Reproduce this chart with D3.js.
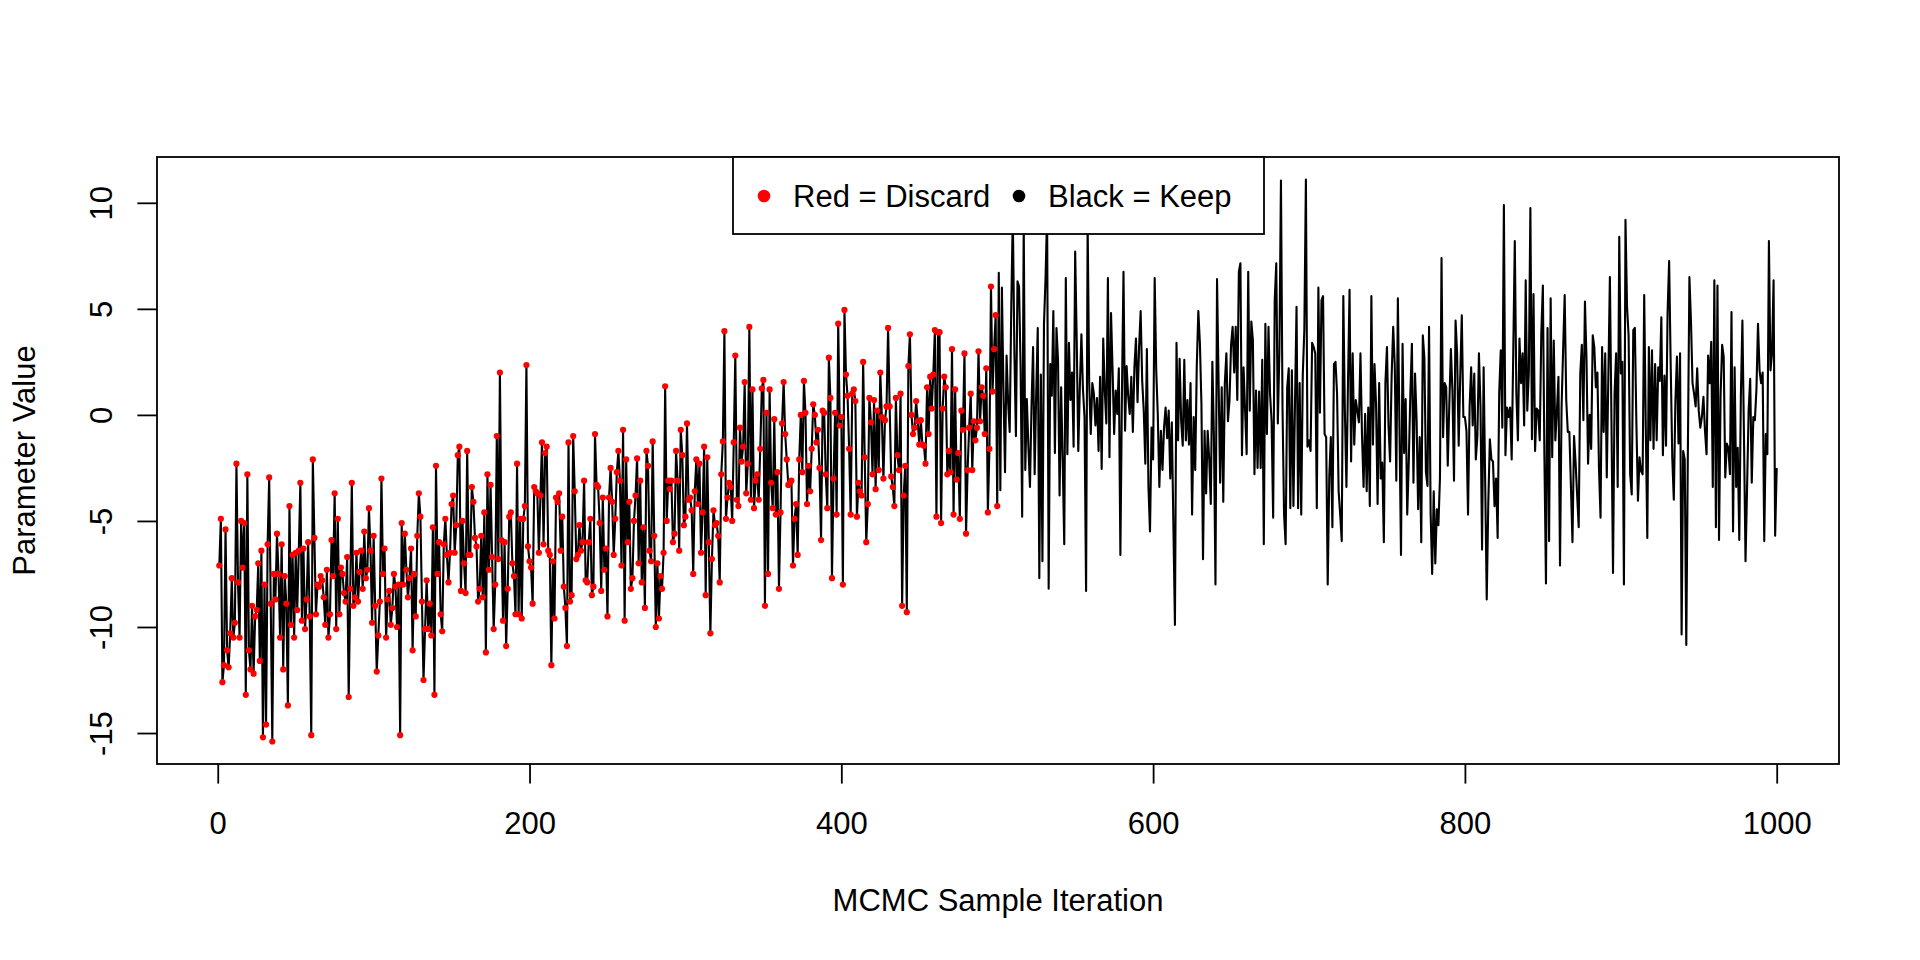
<!DOCTYPE html>
<html>
<head>
<meta charset="utf-8">
<script src="https://cdnjs.cloudflare.com/ajax/libs/d3/7.8.5/d3.min.js"></script>
<style>
  body { margin: 0; background: #fff; }
  svg text { font-family: "Liberation Sans", Arial, sans-serif; fill: #000; }
</style>
</head>
<body>
<svg id="chart" width="1920" height="960"></svg>
<script>
/////////////////////////////////////////////////////////////
// trace values, in blocks of 125 iterations

// burn-in (iterations 1-500), drawn with red points
var discard1 = [
  -7.1, -4.9, -12.6, -11.8, -5.4, -11.1, -11.9, -10.3, -7.7, -10.5,
  -9.8, -2.3, -7.9, -10.5, -5.0, -7.2, -5.1, -13.2, -2.8, -11.1,
  -12.0, -9.0, -12.2, -9.5, -9.2, -7.0, -11.6, -6.4, -15.2, -8.0,
  -14.6, -6.1, -2.95, -8.9, -15.4, -7.5, -8.7, -5.6, -7.5, -10.5,
  -6.1, -12.0, -7.6, -8.9, -13.7, -4.3, -9.9, -6.6, -10.5, -6.5,
  -9.2, -6.4, -3.2, -9.7, -6.3, -10.1, -8.7, -6.0, -9.5, -15.1,
  -2.1, -5.8, -9.4, -8.0, -8.1, -7.6, -7.8, -8.6, -9.9, -7.3,
  -10.5, -9.4, -5.9, -7.6, -3.7, -10.1, -4.9, -9.4, -7.2, -7.5,
  -8.4, -8.8, -6.7, -13.3, -8.2, -3.2, -9.0, -8.6, -6.5, -8.8,
  -7.4, -6.4, -8.2, -5.5, -7.7, -7.3, -4.4, -6.4, -9.8, -5.7,
  -9.0, -12.1, -10.4, -8.8, -3.0, -7.5, -6.3, -10.5, -8.7, -8.3,
  -9.9, -9.1, -7.5, -8.1, -10.0, -8.0, -15.1, -5.1, -8.0, -5.6,
  -7.3, -8.6, -7.7, -6.3, -11.1
];
var discard2 = [
  -7.5, -9.5, -5.7, -3.7, -4.8, -8.8, -12.5, -10.1, -7.8, -10.1,
  -8.9, -10.4, -5.3, -13.2, -2.4, -7.5, -6.0, -9.4, -10.2, -6.1,
  -4.9, -6.6, -7.9, -6.5, -4.2, -3.8, -6.5, -5.2, -1.9, -1.5,
  -8.3, -5.0, -7.0, -8.4, -1.7, -6.6, -6.6, -3.4, -4.1, -5.8,
  -6.2, -8.8, -8.2, -5.7, -8.6, -4.6, -11.2, -2.8, -7.3, -3.3,
  -6.7, -10.1, -8.0, -1.0, -6.8, 2.0, -5.9, -9.7, -6.0, -10.9,
  -8.2, -4.8, -4.6, -7.0, -7.6, -9.4, -2.3, -9.4, -4.9, -9.6,
  -4.9, -4.3, 2.35, -6.2, -6.9, -7.2, -8.9, -3.4, -3.6, -3.7,
  -6.5, -3.8, -1.3, -6.1, -1.8, -1.5, -6.4, -6.6, -11.8, -6.9,
  -9.6, -3.9, -4.1, -3.7, -6.4, -4.8, -8.1, -9.1, -10.9, -1.3,
  -8.8, -8.5, -1.0, -3.6, -6.8, -6.6, -5.2, -6.4, -6.0, -3.1,
  -7.8, -7.9, -6.0, -4.9, -8.5, -8.1, -0.9, -3.3, -3.4, -5.1,
  -8.3, -3.9, -7.3, -6.3, -9.5
];
var discard3 = [
  -3.9, -2.5, -4.1, -6.6, -4.9, -2.7, -1.7, -3.1, -7.1, -0.7,
  -9.7, -2.1, -6.0, -4.1, -8.2, -7.7, -5.0, -3.8, -2.05, -7.0,
  -3.1, -7.9, -5.3, -9.1, -1.7, -2.4, -6.4, -6.9, -1.25, -5.7,
  -10.0, -7.0, -9.6, -7.6, -8.2, -6.5, 1.35, -5.0, -3.1, -3.5,
  -3.1, -6.0, -5.6, -1.7, -3.1, -6.4, -0.7, -1.9, -5.2, -4.8,
  -0.4, -4.0, -3.9, -4.5, -7.5, -3.6, -2.1, -4.2, -2.3, -6.5,
  -4.6, -1.5, -8.5, -2.0, -6.0, -10.3, -6.8, -4.5, -5.2, -5.1,
  -5.7, -7.9, -2.8, -1.25, 3.95, -4.9, -3.9, -3.2, -3.4, -5.0,
  -1.3, 2.8, -4.0, -4.3, -0.6, -2.2, -1.5, 1.55, -3.7, -2.3,
  4.15, -4.0, 1.2, -4.4, -3.1, -2.8, -4.0, -1.6, 1.25, 1.65,
  -9.0, 0.1, -7.5, 1.2, -3.2, -4.4, -0.2, -4.7, -2.7, -8.2,
  -4.6, -0.4, 1.55, -0.9, -2.1, -3.3, -3.2, -3.1, -7.1, -4.9,
  -4.2, -6.6, -2.1, 0.0, -2.7
];
var discard4 = [
  1.6, 0.1, -4.2, -2.4, -3.6, -1.6, 0.5, 0.0, -1.3, -0.7,
  -2.5, -5.9, 0.2, 0.1, -2.8, -4.4, 2.7, 0.8, -7.7, -3.0,
  0.1, -4.7, 4.3, -0.5, -0.1, -8.0, 4.95, 1.9, 0.9, -1.6,
  -4.7, 1.0, 1.2, 0.65, -4.8, -3.2, -3.6, -3.8, 2.5, -2.0,
  -6.0, -4.2, 0.8, -0.35, -2.8, 0.7, -3.5, 0.2, -2.6, 2.0,
  -0.1, -3.0, -0.25, 0.4, 4.1, 0.4, -2.9, -3.4, -4.3, 0.8,
  -1.9, -2.6, 1.0, -9.0, -3.8, -2.4, -9.3, 2.3, 3.8, 0.0,
  -0.9, -0.6, 0.65, -0.3, -1.4, -0.25, -1.4, -1.45, -2.3, 1.3,
  -0.9, 1.8, 0.3, 1.9, 4.0, -4.8, 3.9, 3.9, -5.1, 0.3,
  1.8, 1.3, -2.8, -1.7, -2.7, 3.1, -4.7, 1.2, -3.05, -1.8,
  -4.9, 0.2, -0.7, 2.9, -5.6, -2.6, -0.6, 1.0, -2.6, -0.3,
  -1.2, -0.6, 3.0, -0.3, 1.3, 0.9, -0.9, 2.2, -4.6, -1.6,
  6.05, 1.1, 3.1, 4.7, -4.3
];

// kept samples (iterations 501-1000), line only
var keep1 = [
  6.7, -3.55, 6.0, 1.2, -2.7, 2.8, 0.6, -0.8, 5.0, 9.5,
  3.0, -1.0, 6.3, 6.05, 2.2, -4.8, 9.0, -2.6, 0.75, -1.5,
  -3.4, 0.4, 3.2, -2.8, 1.0, 4.1, -7.7, 1.9, -6.9, 4.3,
  6.45, 9.5, -8.2, 2.4, 0.9, 4.9, -1.8, 4.1, 2.6, -3.8,
  1.3, -2.2, -6.1, 6.45, -1.85, 3.4, 0.7, 2.0, -1.5, 7.7,
  3.5, -1.7, 1.3, 3.8, 1.2, -0.1, -8.3, 9.0, 1.5, -0.9,
  1.5, 1.0, -0.5, 0.8, -1.7, 1.8, -2.55, 3.6, 1.1, -0.4,
  6.45, -2.0, 4.8, 2.1, -0.9, 1.15, 0.05, 2.2, -6.6, 1.0,
  6.75, -0.75, 2.3, 0.9, 0.05, 1.8, -0.8, 2.25, 3.6, 0.6,
  3.2, 4.9, 1.6, 0.2, -2.3, 3.1, -3.35, -5.5, -0.6, -2.1,
  6.45, 2.1, 0.0, -3.4, -0.75, -2.6, -0.6, 0.35, -1.1, 0.2,
  -3.0, -0.35, -5.2, -9.9, 3.4, -1.2, 2.65, -0.3, -1.45, 2.6,
  -1.2, 0.7, -1.4, 1.5, -4.7
];
var keep2 = [
  -0.1, -2.6, 2.3, 4.9, 3.4, 0.5, -6.8, -0.75, -3.7, -0.75,
  -2.1, -4.2, 2.5, -1.0, -8.0, 6.4, 1.6, -3.2, 1.3, -4.1,
  1.5, 2.9, -0.3, 0.7, 3.3, 4.15, 2.0, 4.15, 0.7, 6.75,
  7.15, -1.9, 2.25, 0.2, -1.85, 6.75, 0.2, 4.4, 3.5, -2.8,
  1.15, -2.5, 1.1, -2.5, 2.6, -6.1, 4.3, -0.9, 4.15, 1.0,
  -0.3, -4.85, 5.4, 7.15, -0.4, 3.0, 11.05, 0.35, -4.7, -6.1,
  1.3, 2.2, -4.4, 2.1, -4.3, 0.5, 5.1, -4.4, 1.5, -4.7,
  1.9, 4.0, 11.1, -1.5, -1.2, -1.7, 3.4, 3.2, 2.9, -4.4,
  6.0, 0.1, 5.4, 5.6, -0.9, -1.05, -8.0, -2.9, -1.05, -5.3,
  2.4, 2.5, 1.0, -3.6, -4.7, -5.95, 5.6, 0.2, -3.4, 1.5,
  5.9, -2.2, 2.9, -1.4, 0.7, 0.2, -0.35, 2.9, -1.0, -3.4,
  0.05, -3.6, 0.35, -4.3, 5.6, -1.4, 2.4, 0.5, -4.2, 1.5,
  -3.0, -2.25, -6.0, 1.5, 3.2
];
var keep3 = [
  -0.5, -2.2, 1.85, 4.15, 2.35, -3.1, 5.5, -0.5, -6.6, 3.35,
  -1.8, 0.75, -4.7, -2.2, 1.0, 3.35, -3.2, 1.95, -0.2, -4.45,
  -1.05, -6.0, 3.75, 2.7, -2.7, -3.35, 4.15, -4.6, -7.5, -3.6,
  -7.0, -4.45, -5.2, -2.95, 7.4, -1.05, 1.5, 1.3, -2.4, 0.5,
  3.1, 1.15, -3.1, 4.45, 2.9, -1.45, 1.85, 4.7, -0.1, -0.1,
  -0.75, -4.7, 0.35, 2.25, -0.5, 1.95, -2.1, -1.0, 2.9, 0.4,
  -6.35, 2.25, -3.1, -8.7, -4.15, -1.15, -2.1, -2.2, -4.3, -3.0,
  -5.8, 1.05, 3.05, -0.6, 9.9, -1.9, 0.35, -0.1, 0.35, -2.1,
  2.9, 8.2, 1.0, -1.2, 3.6, 1.5, 2.9, -0.5, 6.35, 0.2,
  2.0, 9.75, -1.15, 5.7, -1.7, 0.3, 0.2, -1.2, 3.85, 6.1,
  -2.0, -7.95, 4.1, -5.95, 5.5, -2.0, 3.5, -1.2, 0.15, 1.8,
  -7.1, 0.35, 3.1, 5.65, 0.7, -0.8, -0.8, -3.35, -6.0, -1.0,
  -2.25, -3.8, -5.3, 1.95, 3.3
];
var keep4 = [
  -0.25, 5.35, 2.6, -2.3, 0.0, -1.6, 3.75, 3.2, 1.3, 2.0,
  -2.5, -4.85, 3.2, -0.8, 2.9, -2.95, 1.8, 6.5, -0.25, -7.45,
  1.0, 2.9, -3.4, 8.4, 1.95, 2.5, -8.0, 9.2, 5.1, 3.75,
  -2.8, -3.75, 4.0, 4.1, -0.4, -4.05, -2.0, -2.65, -2.8, 5.65,
  -0.5, -5.8, 3.2, -1.2, 3.05, -1.6, 2.4, -1.2, 2.25, 1.6,
  4.6, -1.9, 1.85, -1.45, 4.8, 7.25, 2.35, -2.0, -4.0, 0.6,
  2.75, -1.35, 2.9, -10.35, -1.7, -2.1, -10.85, -1.85, 6.5, 4.45,
  1.5, 1.0, 0.4, 2.2, 0.2, -0.6, -0.1, 0.85, -0.75, -1.85,
  2.8, 1.5, 3.45, -3.4, 6.35, -5.3, 6.1, -5.9, 0.9, 3.3,
  2.75, -2.95, -1.35, -1.55, -2.8, 4.85, -5.5, 2.25, -3.4, -1.55,
  -5.9, 0.85, 4.45, -1.0, -6.9, -3.4, 0.2, 1.7, -3.2, -0.1,
  -0.25, 1.2, 4.3, 2.1, 1.5, 2.0, -5.95, -0.9, -1.85, 8.2,
  2.1, 2.9, 6.35, -5.7, -2.5
];

var xTicks = [0, 200, 400, 600, 800, 1000];
var yTicks = [-15, -10, -5, 0, 5, 10];
var legendLabels = ["Red = Discard", "Black = Keep"];
var legendColors = ["red", "black"];
var xTitle = "MCMC Sample Iteration";
var yTitle = "Parameter Value";

/////////////////////////////////////////////////////////////
var discard = discard1.concat(discard2, discard3, discard4);
var keep = keep1.concat(keep2, keep3, keep4);
var samples = discard.concat(keep).map((v, i) => ({iter: i + 1, value: v}));
var burn = samples.slice(0, discard.length);

// plot region (window.top is read-only, so no bare "top" here)
var box = {left: 157, right: 1839, top: 157, bottom: 764};
var fontSize = 31;

var svg = d3.select("#chart");
svg.append("rect").attr("width", 1920).attr("height", 960).attr("fill", "#fff");

// R pads both axes by 4% of the data range
var n = samples.length;
var xPad = 0.04 * (n - 1);
var x = d3.scaleLinear().domain([1 - xPad, n + xPad]).range([box.left, box.right]);
var ext = d3.extent(samples, d => d.value);
var yPad = 0.04 * (ext[1] - ext[0]);
var y = d3.scaleLinear().domain([ext[0] - yPad, ext[1] + yPad]).range([box.bottom, box.top]);

// trace line
var line = d3.line().x(d => x(d.iter)).y(d => y(d.value));
svg.append("path")
    .datum(samples)
    .attr("fill", "none")
    .attr("stroke", "black")
    .attr("stroke-width", 2.1)
    .attr("stroke-linejoin", "round")
    .attr("d", line);

// burn-in points
svg.append("g")
    .selectAll("circle")
    .data(burn)
    .join("circle")
    .attr("cx", d => x(d.iter))
    .attr("cy", d => y(d.value))
    .attr("r", 3.1)
    .attr("fill", "red");

// axes
var xAxis = d3.axisBottom(x).tickValues(xTicks).tickSize(19.6).tickSizeOuter(0);
var gx = svg.append("g").attr("transform", `translate(0,${box.bottom})`).call(xAxis);
gx.select(".domain").remove();
gx.selectAll("line").attr("stroke", "black").attr("stroke-width", 1.8);
gx.selectAll("text")
    .attr("y", 70).attr("dy", null)
    .style("font-size", fontSize + "px")
    .text(d => String(d));

var yAxis = d3.axisLeft(y).tickValues(yTicks).tickSize(19.6).tickSizeOuter(0);
var gy = svg.append("g").attr("transform", `translate(${box.left},0)`).call(yAxis);
gy.select(".domain").remove();
gy.selectAll("line").attr("stroke", "black").attr("stroke-width", 1.8);
// R writes y labels parallel to the axis, with a plain hyphen for minus
gy.selectAll("text")
    .attr("x", null).attr("dy", null)
    .attr("text-anchor", "middle")
    .attr("transform", "translate(-45,0) rotate(-90)")
    .style("font-size", fontSize + "px")
    .text(d => String(d));

// box
svg.append("rect")
    .attr("x", box.left).attr("y", box.top)
    .attr("width", box.right - box.left).attr("height", box.bottom - box.top)
    .attr("fill", "none").attr("stroke", "black").attr("stroke-width", 1.8);

// titles
svg.append("text")
    .attr("x", (box.left + box.right) / 2).attr("y", 911)
    .attr("text-anchor", "middle")
    .style("font-size", fontSize + "px")
    .text(xTitle);
svg.append("text")
    .attr("transform", `translate(35,${(box.top + box.bottom) / 2}) rotate(-90)`)
    .attr("text-anchor", "middle")
    .style("font-size", fontSize + "px")
    .text(yTitle);

// legend (white box drawn over the trace, like R's legend())
var lg = svg.append("g");
lg.append("rect")
    .attr("x", 733).attr("y", box.top)
    .attr("width", 531).attr("height", 77)
    .attr("fill", "#fff").attr("stroke", "black").attr("stroke-width", 1.8);
var dotX = [764, 1019];
var items = lg.selectAll("g.item")
    .data(legendLabels)
    .join("g")
    .attr("class", "item");
items.append("circle")
    .attr("cx", (d, i) => dotX[i]).attr("cy", 196)
    .attr("r", 6.3)
    .attr("fill", (d, i) => legendColors[i]);
items.append("text")
    .attr("x", (d, i) => dotX[i] + 29).attr("y", 207)
    .style("font-size", fontSize + "px")
    .text(d => d);
</script>
</body>
</html>
